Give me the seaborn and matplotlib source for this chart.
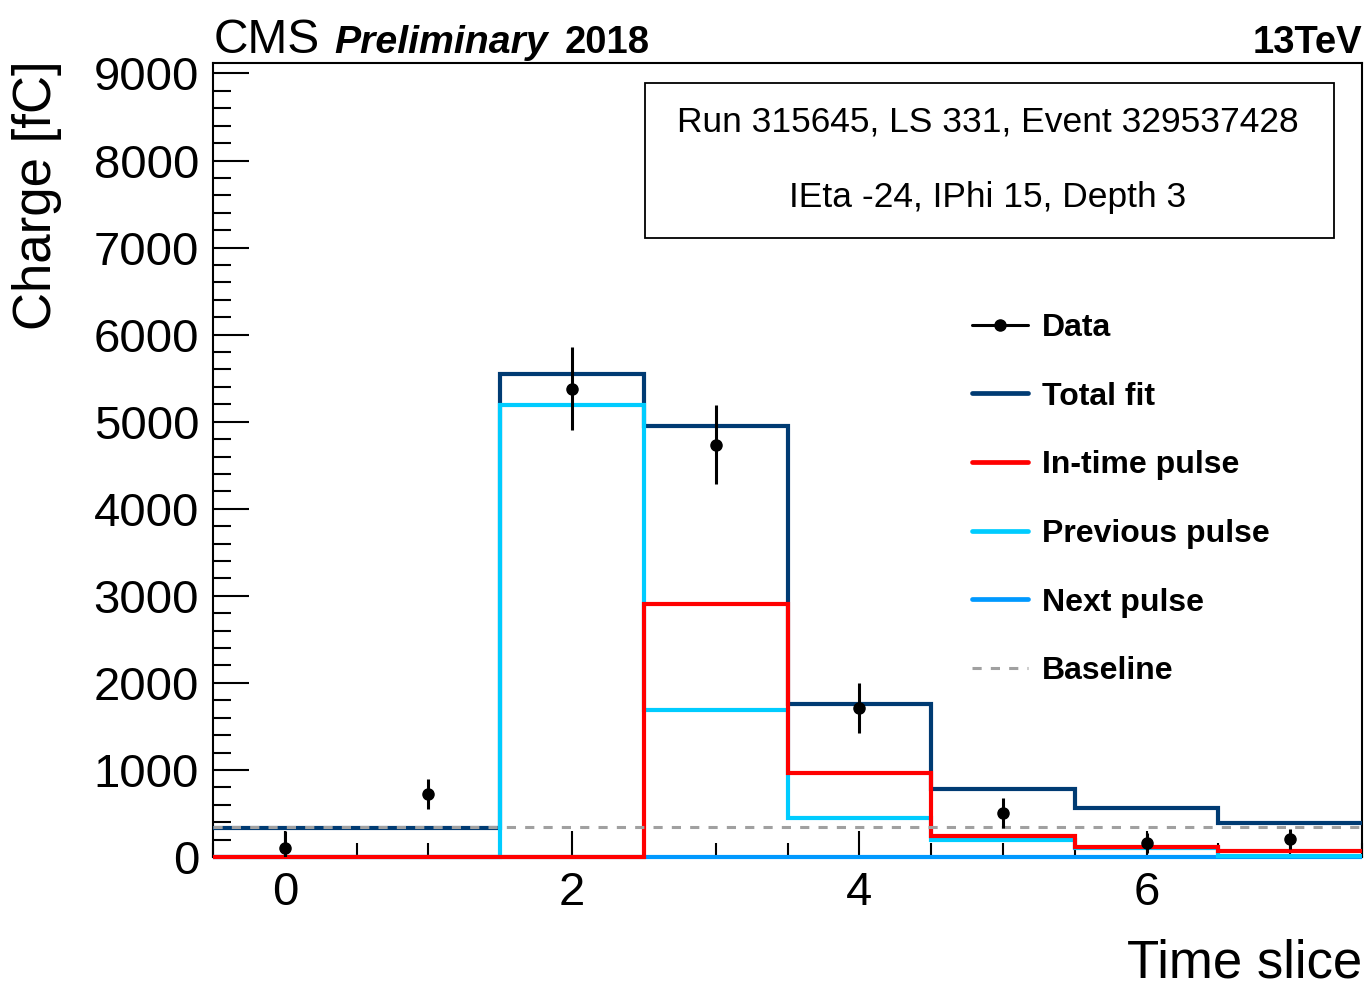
import numpy as np
import pandas as pd
import matplotlib
matplotlib.use("Agg")
import matplotlib.pyplot as plt
import seaborn as sns
from matplotlib.lines import Line2D
from matplotlib.patches import Rectangle

# ---- data ----
time_slices = [0, 1, 2, 3, 4, 5, 6, 7]
data_charge = [100, 724, 5379, 4736, 1713, 506, 161, 207]
data_err = [200, 170, 480, 450, 290, 170, 120, 120]
total_fit = [335, 335, 5552, 4954, 1759, 782, 563, 391]
in_time_pulse = [0, 0, 0, 2908, 966, 241, 120, 65]
previous_pulse = [0, 0, 5195, 1690, 448, 195, 100, 15]
next_pulse = [0, 0, 0, 0, 0, 0, 0, 0]
baseline = 340

legend_labels = ["Data", "Total fit", "In-time pulse", "Previous pulse", "Next pulse", "Baseline"]

W, H = 1366, 990
sns.set_theme(style="white")
plt.rcParams['font.family'] = ['Liberation Sans', 'DejaVu Sans']
plt.rcParams.update({
    "text.color": "black",
    "axes.labelcolor": "black",
    "xtick.color": "black",
    "ytick.color": "black",
    "axes.edgecolor": "black",
})

fig = plt.figure(figsize=(W / 100, H / 100), dpi=100)
ax = fig.add_axes([213 / W, 1 - 857 / H, (1362 - 213) / W, (857 - 63) / H])


def step_frame(values):
    centers = np.asarray(time_slices, dtype=float)
    edges = np.append(centers - 0.5, centers[-1] + 0.5)
    vals = np.append(values, values[-1])
    return pd.DataFrame({"x": edges, "y": vals})


hist_lw = 3.0
series = [
    (total_fit, "#003b73"),
    (next_pulse, "#0099ff"),
    (previous_pulse, "#00ccff"),
    (in_time_pulse, "#ff0000"),
]
for i, (vals, col) in enumerate(series):
    df = step_frame(vals)
    sns.lineplot(data=df, x="x", y="y", ax=ax, color=col, linewidth=hist_lw,
                 drawstyle="steps-post", estimator=None, sort=False, legend=False,
                 solid_joinstyle="miter", solid_capstyle="butt",
                 clip_on=False, zorder=3 + i * 0.1)

ax.axhline(baseline, color="#a0a0a0", linewidth=2.2, linestyle=(0, (3, 3)), zorder=3.6)

ax.errorbar(time_slices, data_charge, yerr=data_err, fmt="o", color="black",
            markersize=8, elinewidth=2.2, capsize=0, zorder=5)

ax.set_xlim(-0.5, 7.5)
ax.set_ylim(0, 9120)
ax.set_xlabel("")
ax.set_ylabel("")

ax.set_xticks([0, 2, 4, 6])
ax.set_xticks(np.arange(-0.5, 7.51, 0.5), minor=True)
ax.set_yticks(np.arange(0, 9001, 1000))
ax.set_yticks(np.arange(0, 9001, 200), minor=True)
ax.tick_params(axis="both", which="both", direction="in", color="black", width=1.5,
               top=False, right=False, bottom=True, left=True, labelcolor="black")
ax.tick_params(axis="y", which="major", length=26, labelsize=34, pad=10)
ax.tick_params(axis="y", which="minor", length=13)
ax.tick_params(axis="x", which="major", length=19, labelsize=34, pad=10)
ax.tick_params(axis="x", which="minor", length=10)
for s in ax.spines.values():
    s.set_color("black")
    s.set_linewidth(1.5)
    s.set_visible(True)
    s.set_zorder(2.5)
ax.grid(False)


def fx(px):
    return px / W


def fy(py):
    return 1 - py / H


# axis titles
fig.text(fx(37), fy(60), "Charge [fC]", rotation=90, ha="center", va="top", fontsize=38,
         color="black")
fig.text(fx(1362), fy(989), "Time slice", ha="right", va="bottom", fontsize=38, color="black")

# header
fig.text(fx(214), fy(53), "CMS", ha="left", va="baseline", fontsize=34.5, color="black")
fig.text(fx(334), fy(53), "Preliminary", ha="left", va="baseline", fontsize=28.3,
         fontweight="bold", fontstyle="italic", color="black")
fig.text(fx(565), fy(53), "2018", ha="left", va="baseline", fontsize=27.5, fontweight="bold",
         color="black")
fig.text(fx(1362), fy(53), "13TeV", ha="right", va="baseline", fontsize=27.5, fontweight="bold",
         color="black")

# info box
fig.add_artist(Rectangle((fx(645), fy(238)), fx(1334) - fx(645), fy(83) - fy(238),
                         transform=fig.transFigure, fill=False, edgecolor="black",
                         linewidth=1.3))
fig.text(fx(988), fy(122), "Run 315645, LS 331, Event 329537428", ha="center", va="center",
         fontsize=25.5, color="black")
fig.text(fx(988), fy(197), "IEta -24, IPhi 15, Depth 3", ha="center", va="center",
         fontsize=25.5, color="black")

# legend
handles = [
    Line2D([], [], color="black", linewidth=2.2, marker="o", markersize=8),
    Line2D([], [], color="#003b73", linewidth=3.4),
    Line2D([], [], color="#ff0000", linewidth=3.4),
    Line2D([], [], color="#00ccff", linewidth=3.4),
    Line2D([], [], color="#0099ff", linewidth=3.4),
    Line2D([], [], color="#a0a0a0", linewidth=2.2, linestyle=(0, (3, 3))),
]
leg = ax.legend(handles, legend_labels, loc="upper left",
                bbox_to_anchor=(fx(972), fy(313)), bbox_transform=fig.transFigure,
                frameon=False, prop={"size": 23, "weight": "bold"},
                handlelength=1.75, handletextpad=0.45, labelspacing=1.21,
                borderpad=0, borderaxespad=0)
for t in leg.get_texts():
    t.set_color("black")

fig.savefig("out.png", dpi=100)
